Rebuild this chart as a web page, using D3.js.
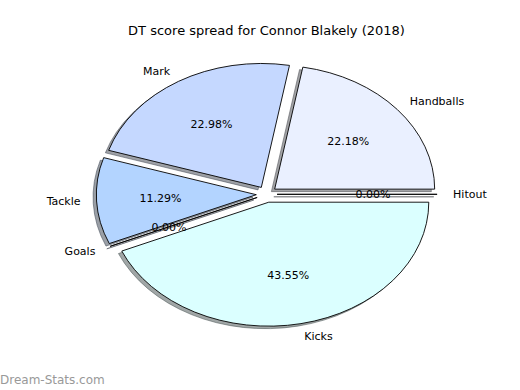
<!DOCTYPE html>
<html>
<head>
<meta charset="utf-8">
<script src="https://cdn.jsdelivr.net/npm/d3@7"></script>
<style>
  body { margin: 0; background: #fff; }
  svg { display: block; font-family: "DejaVu Sans", sans-serif; }
</style>
</head>
<body>
<div id="chart"></div>
<script>
// DT points per stat (kicks 3, marks 3, handballs 2, tackles 4, goals 6, hitouts 1)
var labels = ["Handballs", "Mark", "Tackle", "Goals", "Kicks", "Hitout"];
var points = [110, 114, 56, 0, 216, 0];
var colors = ["#eaf0ff", "#c5d8ff", "#b3d4ff", "#cce0ff", "#dbffff", "#e6f0ff"];
var title = "DT score spread for Connor Blakely (2018)";

var width = 520, height = 390;
var cx = 266.7, cy = 194.3;
var rx = 160, ry = 124;
var explode = 0.065;
var shadow_dx = -3.3, shadow_dy = 2.5;

var svg = d3.select("#chart").append("svg")
  .attr("width", width)
  .attr("height", height);

// counter-clockwise from 3 o'clock, like matplotlib
var pie = d3.pie()
  .sort(null)
  .value(function(d){ return d; })
  .startAngle(Math.PI / 2)
  .endAngle(Math.PI / 2 - 2 * Math.PI);

var arcs = pie(points);
var total = d3.sum(points);
var arc = d3.arc().innerRadius(0).outerRadius(1);

arcs.forEach(function(d, i){
  var m = (d.startAngle + d.endAngle) / 2;
  d.ux = Math.sin(m);
  d.uy = -Math.cos(m);
  d.ox = cx + explode * rx * d.ux;
  d.oy = cy + explode * ry * d.uy;
  d.label = labels[i];
  d.color = colors[i];
});

function shade(c){
  var rgb = d3.rgb(c);
  return d3.rgb(rgb.r * 0.3, rgb.g * 0.3, rgb.b * 0.3).toString();
}

// shadows first
svg.append("g")
  .selectAll("path")
  .data(arcs)
  .enter()
  .append("path")
  .attr("d", arc)
  .attr("transform", function(d){
    return "translate(" + (d.ox + shadow_dx) + "," + (d.oy + shadow_dy) + ") scale(" + rx + "," + ry + ")";
  })
  .attr("vector-effect", "non-scaling-stroke")
  .style("fill", function(d){ return shade(d.color); })
  .style("fill-opacity", 0.5)
  .style("stroke", function(d){ return shade(d.color); })
  .style("stroke-opacity", 0.5)
  .style("stroke-width", 1);

// wedges
svg.append("g")
  .selectAll("path")
  .data(arcs)
  .enter()
  .append("path")
  .attr("d", arc)
  .attr("transform", function(d){
    return "translate(" + d.ox + "," + d.oy + ") scale(" + rx + "," + ry + ")";
  })
  .attr("vector-effect", "non-scaling-stroke")
  .style("fill", function(d){ return d.color; })
  .style("stroke", "#000")
  .style("stroke-width", 0.9)
  .style("stroke-linejoin", "miter");

// outer labels
svg.append("g")
  .selectAll("text")
  .data(arcs)
  .enter()
  .append("text")
  .attr("x", function(d){ return d.ox + 1.1 * rx * d.ux; })
  .attr("y", function(d){ return d.oy + 1.1 * ry * d.uy; })
  .attr("dy", "0.35em")
  .attr("text-anchor", function(d){ return d.ux > 0 ? "start" : "end"; })
  .style("font-size", "11px")
  .style("fill", "#000")
  .text(function(d){ return d.label; });

// percentages
var pct = d3.format(".2f");
svg.append("g")
  .selectAll("text")
  .data(arcs)
  .enter()
  .append("text")
  .attr("x", function(d){ return d.ox + 0.6 * rx * d.ux; })
  .attr("y", function(d){ return d.oy + 0.6 * ry * d.uy; })
  .attr("dy", "0.35em")
  .attr("text-anchor", "middle")
  .style("font-size", "11px")
  .style("fill", "#000")
  .text(function(d){ return pct(100 * d.data / total) + "%"; });

svg.append("text")
  .attr("x", 266.5)
  .attr("y", 30)
  .attr("dy", "0.35em")
  .attr("text-anchor", "middle")
  .style("font-size", "13px")
  .style("fill", "#000")
  .text(title);

svg.append("text")
  .attr("x", 0)
  .attr("y", 380)
  .attr("dy", "0.35em")
  .style("font-size", "12px")
  .style("fill", "#999")
  .text("Dream-Stats.com");
</script>
</body>
</html>
